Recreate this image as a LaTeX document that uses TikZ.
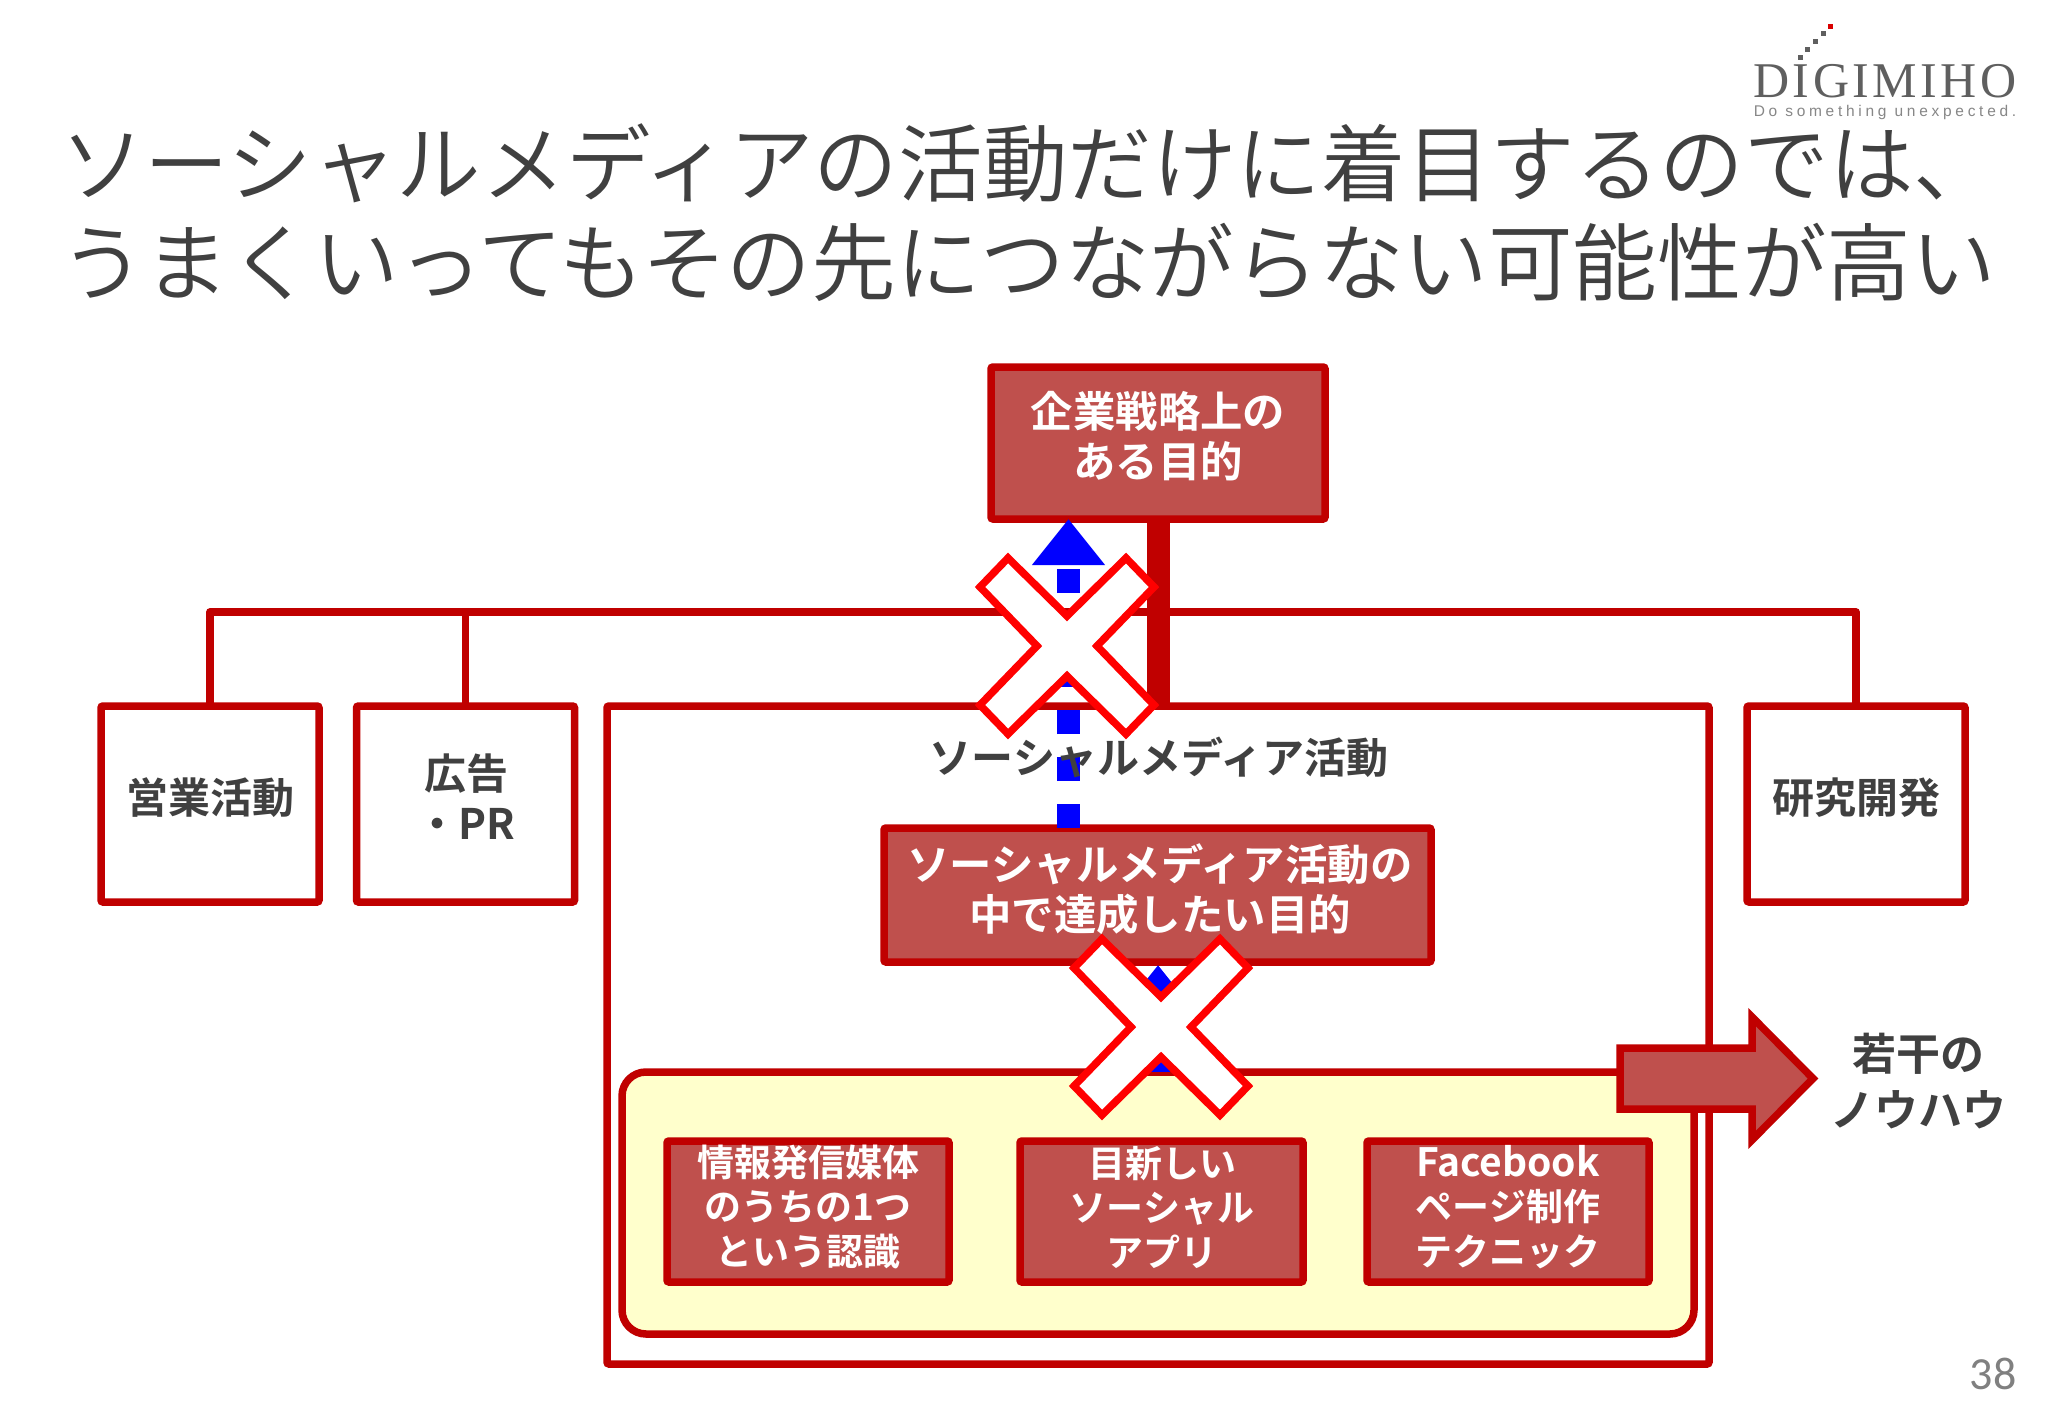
\documentclass[tikz,border=0pt]{standalone}
\usepackage{fontspec}
\usetikzlibrary{arrows.meta}
\setmainfont{Noto Sans CJK JP}
\newfontfamily\jpbold{Noto Sans CJK JP Bold}
\newfontfamily\jplight{Noto Sans CJK JP DemiLight}
\newfontfamily\pagefont{Carlito}
\newfontfamily\logofont[LetterSpace=7]{Liberation Serif}
\newfontfamily\tagfont[LetterSpace=24]{Liberation Sans}
\definecolor{dred}{HTML}{C00000}
\definecolor{mred}{HTML}{BF504D}
\definecolor{ink}{HTML}{404040}
\definecolor{pale}{HTML}{FFFFCC}
\definecolor{logoink}{HTML}{5F5F5F}
\tikzset{
  plainbox/.style={draw=dred,line width=7.5pt,fill=white,rectangle,rounded corners=2pt,inner sep=0pt,outer sep=0pt},
  redbox/.style={plainbox,fill=mred},
  yellowbox/.style={plainbox,fill=pale,rounded corners=24pt},
  wire/.style={draw=dred,line width=7.5pt,line join=round},
  trunk/.style={draw=dred,line width=23pt},
  upflow/.style={draw=blue,line width=23pt,dash pattern=on 24pt off 23pt,-{Triangle[length=46pt,width=70pt]}},
  crossshape/.style={draw=red,fill=white,line width=7.5pt,line join=miter},
  bigarrow/.style={draw=dred,fill=mred,line width=7.5pt,line join=miter},
  whitetext/.style={text=white,align=center,inner sep=0pt,font=\jpbold\fontsize{42.4}{50}\selectfont},
  smalltext/.style={text=white,align=center,inner sep=0pt,font=\jpbold\fontsize{37}{44.5}\selectfont},
  darktext/.style={text=ink,align=center,inner sep=0pt,font=\jpbold\fontsize{42}{50}\selectfont},
  titletext/.style={text=ink,anchor=west,inner sep=0pt,font=\jplight\fontsize{84.6}{100}\selectfont},
  crossstyleshift/.style={crossshape,shift={(#1)}},
}
\newcommand{\crossat}[1]{\draw[crossstyleshift={#1}] (-59,-88)--(0,-30)--(59,-88)--(87,-59)--(30,0)--(87,59)--(59,88)--(0,30)--(-59,88)--(-87,59)--(-30,0)--(-87,-59)--cycle;}
\begin{document}
\begin{tikzpicture}[x=1pt,y=-1pt]
\useasboundingbox (0,0) rectangle (2048,1418);
\fill[white] (0,0) rectangle (2048,1418);
% logo
\foreach \px/\py in {1800/57.3,1807.7/49.3,1815.3/41.7,1823/34}{\fill[logoink] (\px-2.5,\py-2.5) rectangle (\px+2.5,\py+2.5);}
\fill[red!85!black] (1828.2,24.2) rectangle (1833.2,29.2);
\node[text=logoink,inner sep=0pt,text height=33pt,text depth=0pt] (logo) at (1885,81.5) {\logofont\fontsize{50}{50}\selectfont DIGIMIHO};
\node[text=logoink!75,inner sep=0pt,text height=11pt,text depth=3pt] (tag) at (1885,112.5) {\tagfont\fontsize{15.5}{16}\selectfont Do something unexpected.};
% title
\node[titletext] (title1) at (60,163) {ソーシャルメディアの活動だけに着目するのでは、};
\node[titletext] (title2) at (60,262) {うまくいってもその先につながらない可能性が高い};
% boxes
\coordinate (bus) at (1158,612);
\coordinate (aim) at (1068.5,0);
\node[plainbox,minimum width=218pt,minimum height=196pt] (sales) at (210,804) {};
\node[plainbox,minimum width=218pt,minimum height=196pt] (ad) at (465.5,804) {};
\node[plainbox,minimum width=218pt,minimum height=196pt] (rnd) at (1856,804) {};
\node[plainbox,minimum width=1102pt,minimum height=658pt] (social) at (1158,1035) {};
\node[redbox,minimum width=334pt,minimum height=152pt] (goal) at (1158,443) {};
\draw[wire] (sales.north) |- (bus) -| (rnd.north);
\draw[wire] (ad.north) -- (ad.north |- bus);
\draw[trunk] (goal.south) -- (social.north);
\node[yellowbox,minimum width=1072pt,minimum height=262pt] (yellow) at (1158,1203) {};
\node[redbox,minimum width=547pt,minimum height=134pt] (purpose) at (1157.5,895) {};
\node[redbox,minimum width=282pt,minimum height=141pt] (info) at (808,1211.5) {};
\node[redbox,minimum width=283pt,minimum height=141pt] (apps) at (1161.5,1211.5) {};
\node[redbox,minimum width=282pt,minimum height=141pt] (fb) at (1508,1211.5) {};
% flows
\draw[upflow] (purpose.north -| aim) -- (goal.south -| aim);
\draw[upflow,shorten >=3pt] (yellow.north) -- (yellow.north |- purpose.south);
% texts
\node[whitetext] (goalT) at (1158,436) {企業戦略上の\\ある目的};
\node[darktext] (salesT) at (210,798) {営業活動};
\node[darktext] (adT) at (466,797) {広告\\・PR};
\node[darktext] (rndT) at (1856,798) {研究開発};
\node[darktext] (socialT) at (1159,757) {ソーシャルメディア活動};
\node[whitetext] (purposeT) at (1160,889) {ソーシャルメディア活動の\\中で達成したい目的};
\node[smalltext] (infoT) at (808,1207) {情報発信媒体\\のうちの1つ\\という認識};
\node[smalltext] (appsT) at (1162,1207) {目新しい\\ソーシャル\\アプリ};
\node[smalltext] (fbT) at (1508,1207) {{\fontsize{39}{44.5}\selectfont Facebook}\\ページ制作\\テクニック};
% crosses
\crossat{1067,646}
\crossat{1161,1027}
% side arrow
\draw[bigarrow] (1620,1048) -- (1752,1048) -- (1752,1017) -- (1813,1078.5) -- (1752,1140) -- (1752,1109) -- (1620,1109) -- cycle;
\node[text=ink,align=center,inner sep=0pt,font=\jpbold\fontsize{44}{56}\selectfont] (know) at (1918,1081) {若干の\\ノウハウ};
\node[text=black!50,inner sep=0pt,font=\pagefont\fontsize{46}{46}\selectfont] (page) at (1993,1374) {38};
\end{tikzpicture}
\end{document}
